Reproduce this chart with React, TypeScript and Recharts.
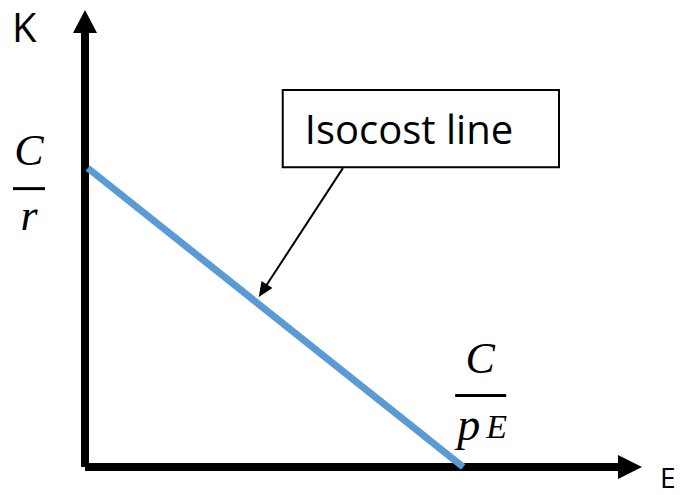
import React from 'react';
import { ComposedChart, Line, XAxis, YAxis, ReferenceLine, ReferenceDot, ReferenceArea } from 'recharts';

// Isocost line: E (x) values and K (y) values
const isoE = [0.5, 67.9];
const isoK = [65.4, 0];
const data = isoE.map((e, i) => ({ e, k: isoK[i] }));

// Axis segments (origin to arrow tips)
const axisOrigin = { x: 0, y: 0 };
const yAxisTip = { x: 0, y: 100 };
const xAxisTip = { x: 100, y: 0 };

// Callout box and arrow
const boxX = [35.5, 85.1];
const boxY = [65.6, 82.5];
const calloutStart = { x: 46.3, y: 65.4 };
const calloutTip = { x: 31.2, y: 37.2 };
const calloutText = 'Isocost line';

// Axis names
const yName = 'K';
const xName = 'E';

const SANS = '"Open Sans", "Liberation Sans", sans-serif';
const MATH = '"Liberation Serif", "DejaVu Serif", serif';

const makeArrow = (headLen: number, headHalf: number, width: number) => (props: any) => {
  const { x1, y1, x2, y2 } = props;
  const dx = x2 - x1;
  const dy = y2 - y1;
  const len = Math.sqrt(dx * dx + dy * dy) || 1;
  const ux = dx / len;
  const uy = dy / len;
  const bx = x2 - ux * headLen;
  const by = y2 - uy * headLen;
  const px = -uy;
  const py = ux;
  return (
    <g>
      <line x1={x1} y1={y1} x2={bx + ux} y2={by + uy} stroke="#000" strokeWidth={width} />
      <polygon
        points={`${x2},${y2} ${bx + px * headHalf},${by + py * headHalf} ${bx - px * headHalf},${by - py * headHalf}`}
        fill="#000"
      />
    </g>
  );
};

const YAxisArrow = makeArrow(23, 12, 8);
const XAxisArrow = makeArrow(24, 12, 8);
const CalloutArrow = makeArrow(15, 6.5, 2);

const YNameLabel = (props: any) => (
  <text x={props.cx - 73} y={props.cy + 32} fontFamily={SANS} fontSize={40} fill="#000">
    {yName}
  </text>
);

const XNameLabel = (props: any) => (
  <text x={props.cx + 18} y={props.cy + 21} fontFamily={SANS} fontSize={28} fill="#000">
    {xName}
  </text>
);

const CoverRLabel = (props: any) => {
  const cx = props.cx - 56;
  const cy = props.cy;
  return (
    <g>
      <text x={cx} y={cy - 3} textAnchor="middle" fontFamily={MATH} fontStyle="italic" fontSize={44} fill="#000">C</text>
      <rect x={cx - 16} y={cy + 19} width={32} height={3} fill="#000" />
      <text x={cx} y={cy + 62} textAnchor="middle" fontFamily={MATH} fontStyle="italic" fontSize={44} fill="#000">r</text>
    </g>
  );
};

const CoverPLabel = (props: any) => {
  const cx = props.cx + 17;
  const cy = props.cy;
  return (
    <g>
      <text x={cx} y={cy - 94} textAnchor="middle" fontFamily={MATH} fontStyle="italic" fontSize={44} fill="#000">C</text>
      <rect x={cx - 25} y={cy - 73} width={51} height={3} fill="#000" />
      <text x={cx - 23} y={cy - 27} fontFamily={MATH} fontStyle="italic" fontSize={46} fill="#000">p</text>
      <text x={cx + 6} y={cy - 29} fontFamily={MATH} fontStyle="italic" fontSize={34} fill="#000">E</text>
    </g>
  );
};

const BoxLabel = (props: any) => {
  const vb = props.viewBox || {};
  return (
    <text x={vb.x + 22} y={vb.y + 54} fontFamily={SANS} fontSize={40} fill="#000">
      {calloutText}
    </text>
  );
};

export default function App() {
  return (
    <div style={{ position: 'absolute', left: 0, top: 0, background: '#fff' }}>
      <ComposedChart
        width={685}
        height={495}
        data={data}
        margin={{ top: 10, right: 43, bottom: 28, left: 85 }}
      >
        <XAxis type="number" dataKey="e" domain={[0, 100]} hide />
        <YAxis type="number" domain={[0, 100]} hide />
        <ReferenceLine segment={[axisOrigin, yAxisTip]} shape={YAxisArrow} ifOverflow="visible" />
        <ReferenceLine segment={[axisOrigin, xAxisTip]} shape={XAxisArrow} ifOverflow="visible" />
        <Line
          type="linear"
          dataKey="k"
          stroke="#5B9BD5"
          strokeWidth={7}
          dot={false}
          activeDot={false}
          isAnimationActive={false}
        />
        <ReferenceLine segment={[calloutStart, calloutTip]} shape={CalloutArrow} ifOverflow="visible" />
        <ReferenceArea
          x1={boxX[0]}
          x2={boxX[1]}
          y1={boxY[0]}
          y2={boxY[1]}
          fill="#fff"
          fillOpacity={1}
          stroke="#000"
          strokeWidth={2}
          ifOverflow="visible"
          label={BoxLabel}
        />
        <ReferenceDot x={yAxisTip.x} y={yAxisTip.y} r={0} shape={YNameLabel} ifOverflow="visible" />
        <ReferenceDot x={xAxisTip.x} y={xAxisTip.y} r={0} shape={XNameLabel} ifOverflow="visible" />
        <ReferenceDot x={isoE[0] - 0.5} y={isoK[0]} r={0} shape={CoverRLabel} ifOverflow="visible" />
        <ReferenceDot x={isoE[1]} y={isoK[1]} r={0} shape={CoverPLabel} ifOverflow="visible" />
      </ComposedChart>
    </div>
  );
}
